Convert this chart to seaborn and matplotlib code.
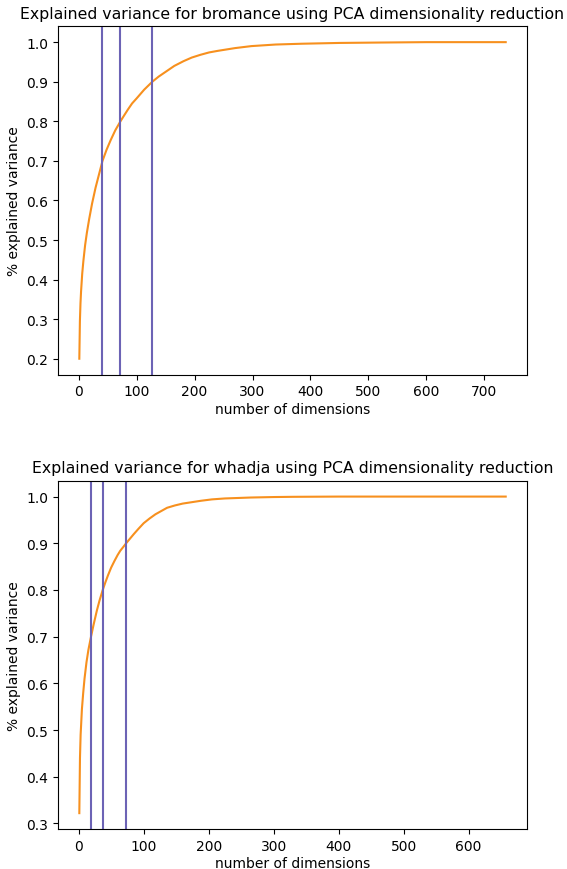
import matplotlib
matplotlib.use("Agg")
import matplotlib.pyplot as plt
import seaborn as sns
import pandas as pd

# --- data ---
top_title = "Explained variance for bromance using PCA dimensionality reduction"
top_dims = [1, 2, 3, 4, 6, 8, 11, 14, 18, 23, 29, 35, 41, 48, 55, 63, 72, 78, 85, 92,
            100, 113, 127, 138, 150, 165, 181, 195, 210, 225, 240, 270, 298, 340, 385,
            450, 520, 600, 737]
top_var = [0.20, 0.295, 0.34, 0.37, 0.415, 0.447, 0.487, 0.518, 0.553, 0.592, 0.632,
           0.666, 0.70, 0.728, 0.752, 0.777, 0.80, 0.814, 0.83, 0.845, 0.858, 0.88,
           0.90, 0.913, 0.925, 0.94, 0.952, 0.961, 0.968, 0.974, 0.978, 0.985, 0.99,
           0.994, 0.996, 0.998, 0.999, 1.0, 1.0]
top_thresholds = [41, 72, 127]

bot_title = "Explained variance for whadja using PCA dimensionality reduction"
bot_dims = [1, 2, 3, 5, 7, 9, 12, 15, 19, 23, 28, 32, 37, 41, 45, 50, 55, 60, 64, 68,
            73, 79, 85, 92, 100, 109, 118, 127, 136, 148, 160, 174, 188, 205, 225,
            245, 265, 300, 330, 400, 657]
bot_var = [0.322, 0.44, 0.49, 0.545, 0.58, 0.61, 0.645, 0.672, 0.70, 0.726, 0.756,
           0.777, 0.80, 0.816, 0.831, 0.848, 0.862, 0.875, 0.884, 0.891, 0.90, 0.910,
           0.920, 0.931, 0.943, 0.953, 0.962, 0.969, 0.976, 0.981, 0.985, 0.988,
           0.991, 0.994, 0.996, 0.997, 0.998, 0.999, 0.9995, 1.0, 1.0]
bot_thresholds = [19, 37, 73]

x_label = "number of dimensions"
y_label = "% explained variance"

curve_color = "#f7901e"
line_color = "#6c63b5"

fig, axes = plt.subplots(2, 1, figsize=(5.67, 8.70), dpi=100)
fig.subplots_adjust(left=0.1023, right=0.9295, top=0.9686, bottom=0.046, hspace=0.305)

panels = [
    (axes[0], top_title, top_dims, top_var, top_thresholds),
    (axes[1], bot_title, bot_dims, bot_var, bot_thresholds),
]
for ax, title, dims, var, thr in panels:
    df = pd.DataFrame({"dims": dims, "var": var})
    sns.lineplot(data=df, x="dims", y="var", ax=ax, color=curve_color, linewidth=1.5)
    for t in thr:
        ax.axvline(t, color=line_color, linewidth=1.5)
    ax.set_title(title, fontsize=11.3)
    ax.set_xlabel(x_label, fontsize=10, labelpad=2.5)
    ax.set_ylabel(y_label, fontsize=10)

fig.savefig("out.png", dpi=100)
